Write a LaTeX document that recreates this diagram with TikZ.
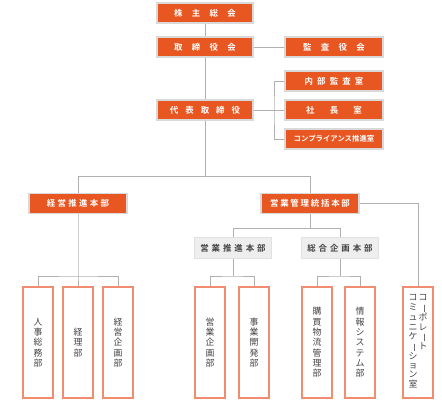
\documentclass[tikz,border=0pt]{standalone}
\usepackage{fontspec}
\setmainfont{Noto Sans CJK JP}[BoldFont={Noto Sans CJK JP Bold}]
\usetikzlibrary{positioning}
\definecolor{orgfill}{RGB}{232,86,34}
\definecolor{orgline}{RGB}{240,140,112}
\definecolor{linegray}{RGB}{176,176,176}
\definecolor{boxgray}{RGB}{238,238,238}
\definecolor{txtgray}{RGB}{68,68,68}

\begin{document}
\begin{tikzpicture}[x=0.03cm,y=-0.03cm,
  orgbox/.style={draw=black!15,line width=1pt,fill=orgfill,text=white,font=\fontsize{7.2}{8}\selectfont\bfseries,minimum width=2.88cm,minimum height=0.6cm,inner sep=0pt},
  subbox/.style={orgbox,minimum width=2.94cm},
  graybox/.style={draw=black!12,line width=1pt,fill=boxgray,text=txtgray,font=\fontsize{7.2}{8}\selectfont\bfseries,minimum width=2.31cm,minimum height=0.63cm,inner sep=0pt},
  deptbox/.style={draw=orgline,line width=0.9pt,fill=white,text=txtgray,font=\fontsize{7.6}{8.8}\selectfont,align=center,minimum width=0.9cm,minimum height=3.33cm,inner sep=0pt},
  conn/.style={draw=linegray,line width=0.7pt}]
\useasboundingbox (0,0) rectangle (442,400);
% top management
\node[orgbox] (kabu) at (205,13) {株\hspace{8pt}主\hspace{8pt}総\hspace{8pt}会};
\node[orgbox] (tori) at (205,47) {取\hspace{8pt}締\hspace{8pt}役\hspace{8pt}会};
\node[subbox] (kansa) at (334,47) {監\hspace{8pt}査\hspace{8pt}役\hspace{8pt}会};
\node[orgbox] (daihyo) at (205,110) {代\hspace{6pt}表\hspace{6pt}取\hspace{6pt}締\hspace{6pt}役};
\node[subbox] (naibu) at (334,81) {内\hspace{3.5pt}部\hspace{3.5pt}監\hspace{3.5pt}査\hspace{3.5pt}室};
\node[subbox] (shacho) at (334,110) {社\hspace{13pt}長\hspace{13pt}室};
\node[subbox,font=\fontsize{6.3}{7}\selectfont\bfseries] (comp) at (334,139) {コンプライアンス推進室};
% divisions
\node[subbox] (keiei) at (78,203.5) {経\hspace{2pt}営\hspace{2pt}推\hspace{2pt}進\hspace{2pt}本\hspace{2pt}部};
\node[subbox] (eigyo) at (310,203.5) {営\hspace{1.5pt}業\hspace{1.5pt}管\hspace{1.5pt}理\hspace{1.5pt}統\hspace{1.5pt}括\hspace{1.5pt}本\hspace{1.5pt}部};
\node[graybox] (suishin) at (233,248) {営\hspace{2.5pt}業\hspace{2.5pt}推\hspace{2.5pt}進\hspace{2.5pt}本\hspace{2.5pt}部};
\node[graybox] (sogo) at (340,248) {総\hspace{2.5pt}合\hspace{2.5pt}企\hspace{2.5pt}画\hspace{2.5pt}本\hspace{2.5pt}部};
% departments
\node[deptbox] (jinji) at (38,342.5) {人\\事\\総\\務\\部};
\node[deptbox] (keiri) at (78,342.5) {経\\理\\部};
\node[deptbox] (kikaku) at (118,342.5) {経\\営\\企\\画\\部};
\node[deptbox] (eikikaku) at (210,342.5) {営\\業\\企\\画\\部};
\node[deptbox] (jigyo) at (254,342.5) {事\\業\\開\\発\\部};
\node[deptbox] (kobai) at (317,342.5) {購\\買\\物\\流\\管\\理\\部};
\node[deptbox] (joho) at (360,342.5) {情\\報\\シ\\ス\\テ\\ム\\部};
\node[deptbox,font=\fontsize{7.6}{7.8}\selectfont] (corp) at (418,342.5) {\begin{tabular}{@{}c@{\hspace{1pt}}c@{}}コ&コ\\ミ&\rotatebox[origin=c]{-90}{ー}\\ュ&ポ\\ニ&レ\\ケ&\rotatebox[origin=c]{-90}{ー}\\\rotatebox[origin=c]{-90}{ー}&ト\\シ&\\ョ&\\ン&\\室&\end{tabular}};
% split points
\coordinate (top) at (205,176);
\coordinate (mid) at (310,228);
\coordinate (br) at (274,110);
\coordinate (g1) at (78,276);
\coordinate (g2) at (233,276);
\coordinate (g3) at (340,276);
% connectors
\draw[conn] (kabu) -- (tori);
\draw[conn] (tori) -- (daihyo);
\draw[conn] (tori) -- (kansa);
\draw[conn] (daihyo) -- (shacho);
\draw[conn] (naibu.west) -| (br) |- (comp.west);
\draw[conn] (daihyo.south) -- (top) -| (keiei.north);
\draw[conn] (top) -| (eigyo.north);
\draw[conn] (eigyo.east) -| (corp.north);
\draw[conn] (eigyo.south) -- (mid) -| (suishin.north);
\draw[conn] (mid) -| (sogo.north);
\draw[conn] (keiei.south) -- (g1) -- (keiri.north);
\draw[conn] (jinji.north) |- (g1) -| (kikaku.north);
\draw[conn] (suishin.south) -- (g2);
\draw[conn] (eikikaku.north) |- (g2) -| (jigyo.north);
\draw[conn] (sogo.south) -- (g3);
\draw[conn] (kobai.north) |- (g3) -| (joho.north);
\end{tikzpicture}
\end{document}
